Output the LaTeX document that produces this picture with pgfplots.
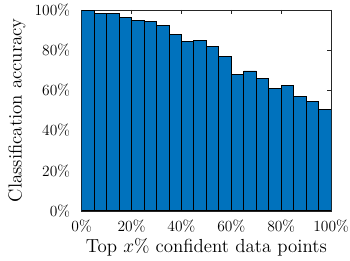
\documentclass[border=0pt]{standalone}
\usepackage{pgfplots}
\pgfplotsset{compat=1.18}
\definecolor{mblue}{RGB}{0,114,189}
\definecolor{axgray}{RGB}{38,38,38}
\begin{document}
\begin{tikzpicture}
\begin{axis}[
  name=ax,
  scale only axis,
  width=185pt, height=149pt,
  xmin=0, xmax=100, ymin=0, ymax=100,
  xtick={0,20,40,60,80,100},
  ytick={0,20,40,60,80,100},
  xticklabels={0\%,20\%,40\%,60\%,80\%,100\%},
  yticklabels={0\%,20\%,40\%,60\%,80\%,100\%},
  tick align=inside,
  tick pos=both,
  major tick length=3pt,
  axis line style={axgray},
  every tick/.style={axgray},
  tick label style={font=\fontsize{11.5}{13}\selectfont},
  xticklabel shift=3pt,
  yticklabel shift=5pt,
  xlabel={Top $x$\% confident data points},
  ylabel={Classification accuracy},
  label style={font=\fontsize{14}{17}\selectfont},
  xlabel style={at={(axis description cs:0.5,0)}, anchor=base, yshift=-30.6pt},
  ylabel style={at={(axis description cs:0,0.5)}, anchor=center, yshift=48pt},
]
\addplot[ybar interval, fill=mblue, draw=black, line width=0.6pt] coordinates {
(0,99.5) (5,98.0) (10,98.4) (15,96.1) (20,94.5) (25,94.1) (30,92.3) (35,87.6)
(40,84.2) (45,84.7) (50,82.0) (55,76.7) (60,68.0) (65,69.6) (70,65.9) (75,61.0)
(80,62.3) (85,57.1) (90,54.4) (95,50.6) (100,50.6)
};
\end{axis}
\pgfresetboundingbox
\path ([shift={(-60.5pt,-37pt)}]ax.south west) rectangle ([shift={(14pt,7.3pt)}]ax.north east);
\end{tikzpicture}
\end{document}
